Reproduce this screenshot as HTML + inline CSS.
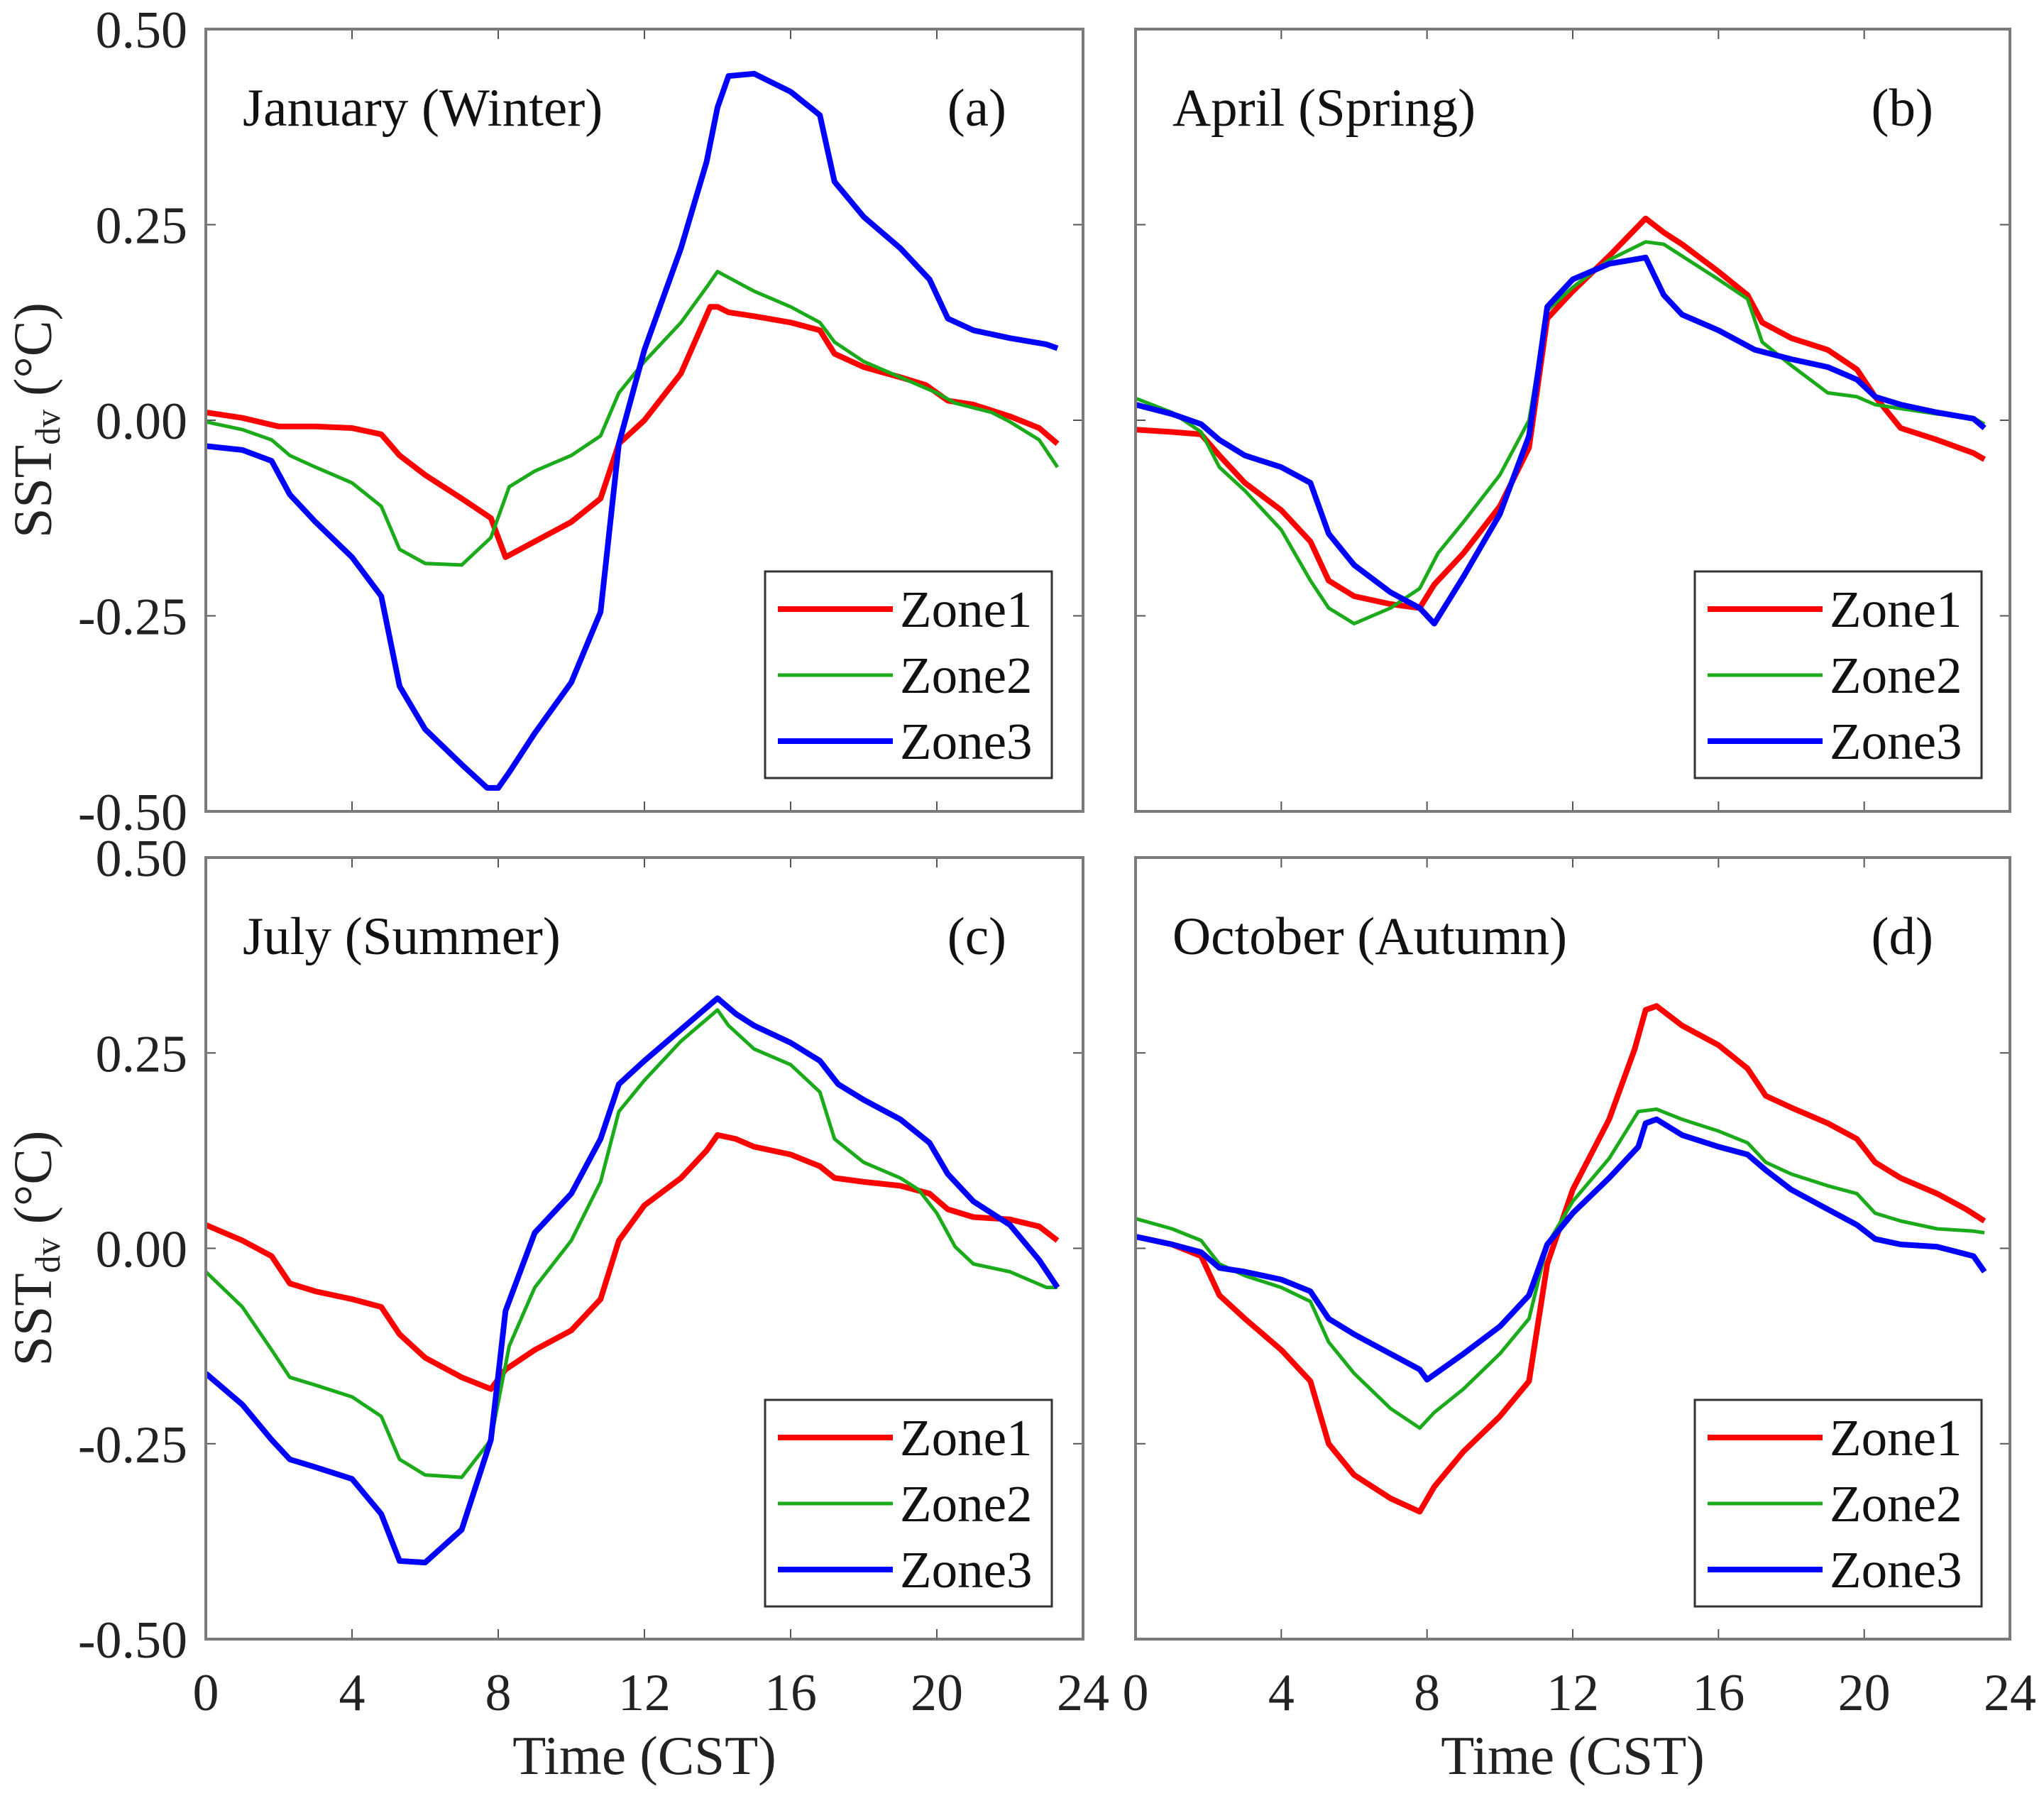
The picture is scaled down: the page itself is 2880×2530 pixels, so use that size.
<!DOCTYPE html>
<html><head><meta charset="utf-8">
<style>
html,body{margin:0;padding:0;background:#fff;}
svg{display:block;font-family:"Liberation Serif",serif;}
</style></head>
<body>
<svg id="fig" width="2880" height="2530" viewBox="0 0 2880 2530" xmlns="http://www.w3.org/2000/svg"></svg>
<script>
// ---- data: [hour, SSTdv] pairs ----
const janZone1=[[0,0.01],[1,0.003],[2,-0.008],[3,-0.008],[4,-0.01],[4.8,-0.018],[5.3,-0.045],[6,-0.07],[7,-0.1],[7.8,-0.125],[8.2,-0.175],[9,-0.155],[10,-0.13],[10.8,-0.1],[11.3,-0.03],[12,0],[13,0.06],[13.8,0.145],[14,0.145],[14.3,0.138],[15,0.133],[16,0.125],[16.8,0.115],[17.2,0.085],[18,0.068],[19,0.055],[19.7,0.045],[20.3,0.025],[21,0.02],[22,0.005],[22.8,-0.01],[23.3,-0.03]];
const janZone2=[[0,-0.002],[1,-0.012],[1.8,-0.025],[2.3,-0.045],[3,-0.06],[4,-0.08],[4.8,-0.11],[5.3,-0.165],[6,-0.183],[7,-0.185],[7.8,-0.15],[8.3,-0.085],[9,-0.065],[10,-0.045],[10.8,-0.02],[11.3,0.035],[12,0.075],[13,0.125],[13.7,0.17],[14,0.19],[15,0.165],[16,0.145],[16.8,0.125],[17.2,0.1],[18,0.075],[19,0.055],[20,0.035],[20.5,0.022],[21.5,0.01],[22,-0.002],[22.8,-0.025],[23.3,-0.06]];
const janZone3=[[0,-0.033],[1,-0.038],[1.8,-0.052],[2.3,-0.095],[3,-0.13],[4,-0.175],[4.8,-0.225],[5.3,-0.34],[6,-0.395],[7,-0.44],[7.7,-0.47],[8,-0.47],[8.3,-0.45],[9,-0.4],[10,-0.335],[10.8,-0.245],[11.3,-0.03],[12,0.09],[13,0.22],[13.7,0.33],[14,0.4],[14.3,0.44],[15,0.443],[16,0.42],[16.8,0.39],[17.2,0.305],[18,0.26],[19,0.22],[19.8,0.18],[20.3,0.13],[21,0.115],[22,0.105],[23,0.097],[23.3,0.092]];
const aprZone1=[[0,-0.012],[1,-0.015],[1.8,-0.018],[2.3,-0.045],[3,-0.08],[4,-0.115],[4.8,-0.155],[5.3,-0.205],[6,-0.225],[7,-0.235],[7.8,-0.24],[8.2,-0.21],[9,-0.17],[10,-0.11],[10.8,-0.035],[11.3,0.13],[12,0.165],[13,0.21],[14,0.258],[14.5,0.24],[15,0.225],[16,0.19],[16.8,0.16],[17.2,0.125],[18,0.105],[19,0.09],[19.8,0.065],[20.3,0.03],[21,-0.01],[22,-0.025],[23,-0.042],[23.3,-0.05]];
const aprZone2=[[0,0.028],[1,0.01],[1.8,-0.015],[2.3,-0.06],[3,-0.09],[4,-0.14],[4.8,-0.205],[5.3,-0.24],[6,-0.26],[7,-0.24],[7.8,-0.215],[8.3,-0.17],[9,-0.13],[10,-0.07],[10.8,0],[11.3,0.14],[12,0.17],[13,0.205],[14,0.228],[14.5,0.225],[15,0.21],[16,0.18],[16.8,0.155],[17.2,0.1],[18,0.07],[19,0.035],[19.8,0.03],[20.3,0.02],[21,0.015],[22,0.008],[23,0.003],[23.3,-0.005]];
const aprZone3=[[0,0.02],[1,0.008],[1.8,-0.005],[2.3,-0.025],[3,-0.045],[4,-0.06],[4.8,-0.08],[5.3,-0.145],[6,-0.185],[7,-0.22],[7.8,-0.24],[8.2,-0.26],[9,-0.2],[10,-0.12],[10.8,-0.02],[11.3,0.145],[12,0.18],[13,0.2],[14,0.208],[14.5,0.16],[15,0.135],[16,0.115],[17,0.09],[18,0.078],[19,0.068],[19.8,0.052],[20.3,0.03],[21,0.02],[22,0.01],[23,0.002],[23.3,-0.01]];
const julZone1=[[0,0.03],[1,0.01],[1.8,-0.01],[2.3,-0.045],[3,-0.055],[4,-0.065],[4.8,-0.075],[5.3,-0.11],[6,-0.14],[7,-0.165],[7.8,-0.18],[8.2,-0.155],[9,-0.13],[10,-0.105],[10.8,-0.065],[11.3,0.01],[12,0.055],[13,0.09],[13.7,0.125],[14,0.145],[14.5,0.14],[15,0.13],[16,0.12],[16.8,0.105],[17.2,0.09],[18,0.085],[19,0.08],[19.8,0.07],[20.3,0.05],[21,0.04],[22,0.037],[22.8,0.028],[23.3,0.01]];
const julZone2=[[0,-0.03],[1,-0.075],[1.8,-0.13],[2.3,-0.165],[3,-0.175],[4,-0.19],[4.8,-0.215],[5.3,-0.27],[6,-0.29],[7,-0.293],[7.8,-0.245],[8.3,-0.125],[9,-0.05],[10,0.01],[10.8,0.085],[11.3,0.175],[12,0.215],[13,0.265],[14,0.305],[14.3,0.285],[15,0.255],[16,0.235],[16.8,0.2],[17.2,0.14],[18,0.11],[19,0.09],[19.5,0.075],[20,0.045],[20.5,0.002],[21,-0.02],[22,-0.03],[23,-0.05],[23.3,-0.05]];
const julZone3=[[0,-0.16],[1,-0.2],[1.8,-0.245],[2.3,-0.27],[3,-0.28],[4,-0.295],[4.8,-0.34],[5.3,-0.4],[6,-0.402],[7,-0.36],[7.8,-0.245],[8.2,-0.08],[9,0.02],[10,0.07],[10.8,0.14],[11.3,0.21],[12,0.24],[13,0.28],[14,0.32],[14.5,0.3],[15,0.285],[16,0.263],[16.8,0.24],[17.3,0.21],[18,0.19],[19,0.165],[19.8,0.135],[20.3,0.095],[21,0.06],[22,0.03],[22.8,-0.015],[23.3,-0.05]];
const octZone1=[[0,0.015],[1,0.005],[1.8,-0.01],[2.3,-0.06],[3,-0.09],[4,-0.13],[4.8,-0.17],[5.3,-0.25],[6,-0.29],[7,-0.32],[7.8,-0.337],[8.2,-0.305],[9,-0.26],[10,-0.215],[10.8,-0.17],[11.3,-0.02],[12,0.075],[13,0.165],[13.7,0.255],[14,0.305],[14.3,0.31],[15,0.285],[16,0.26],[16.8,0.23],[17.3,0.195],[18,0.18],[19,0.16],[19.8,0.14],[20.3,0.11],[21,0.09],[22,0.07],[22.8,0.05],[23.3,0.035]];
const octZone2=[[0,0.038],[1,0.025],[1.8,0.01],[2.3,-0.02],[3,-0.035],[4,-0.05],[4.8,-0.068],[5.3,-0.12],[6,-0.16],[7,-0.205],[7.8,-0.23],[8.2,-0.21],[9,-0.18],[10,-0.135],[10.8,-0.09],[11.3,0.005],[12,0.06],[13,0.115],[13.8,0.175],[14.3,0.178],[15,0.165],[16,0.15],[16.8,0.135],[17.3,0.11],[18,0.095],[19,0.08],[19.8,0.07],[20.3,0.045],[21,0.035],[22,0.025],[23,0.022],[23.3,0.02]];
const octZone3=[[0,0.015],[1,0.005],[1.8,-0.005],[2.3,-0.025],[3,-0.03],[4,-0.04],[4.8,-0.055],[5.3,-0.09],[6,-0.11],[7,-0.135],[7.8,-0.155],[8,-0.168],[9,-0.135],[10,-0.1],[10.8,-0.06],[11.3,0.005],[12,0.045],[13,0.09],[13.8,0.13],[14,0.16],[14.3,0.165],[15,0.145],[16,0.13],[16.8,0.12],[17.3,0.1],[18,0.075],[19,0.05],[19.8,0.03],[20.3,0.012],[21,0.005],[22,0.002],[23,-0.01],[23.3,-0.03]];
const xTicks=[0,4,8,12,16,20,24];
const yTicks=[0.5,0.25,0,-0.25,-0.5];
const yTickLabels=["0.50","0.25","0.00","-0.25","-0.50"];
const zoneNames=["Zone1","Zone2","Zone3"];
const panelTitles=["January (Winter)","April (Spring)","July (Summer)","October (Autumn)"];
const panelLetters=["(a)","(b)","(c)","(d)"];

const NS="http://www.w3.org/2000/svg";
const svg=document.getElementById('fig');
function mk(tag,attrs,parent){const e=document.createElementNS(NS,tag);for(const k in attrs)e.setAttribute(k,attrs[k]);(parent||svg).appendChild(e);return e;}
const colors=["#ff0000","#1aaa1a","#0000ff"];
const widths=[8,5,8];
const panels=[
 {x0:290,x1:1526,y0:41,y1:1143,series:[janZone1,janZone2,janZone3],left:true,bottom:false,name:'panel-a'},
 {x0:1600,x1:2832,y0:41,y1:1143,series:[aprZone1,aprZone2,aprZone3],left:false,bottom:false,name:'panel-b'},
 {x0:290,x1:1526,y0:1208,y1:2309,series:[julZone1,julZone2,julZone3],left:true,bottom:true,name:'panel-c'},
 {x0:1600,x1:2832,y0:1208,y1:2309,series:[octZone1,octZone2,octZone3],left:false,bottom:true,name:'panel-d'}
];
panels.forEach((p,i)=>{
  const g=mk('g',{});
  
  
  const sx=h=>p.x0+(h/24)*(p.x1-p.x0);
  const sy=v=>p.y0+(0.5-v)*(p.y1-p.y0);
  const cid='clip'+i;
  const cp=mk('clipPath',{id:cid},g);
  mk('rect',{x:p.x0,y:p.y0,width:p.x1-p.x0,height:p.y1-p.y0},cp);
  xTicks.forEach(t=>{
    const x=sx(t);
    const tk=mk('path',{d:`M${x},${p.y1}v-14M${x},${p.y0}v14`,stroke:'#555','stroke-width':2},g);
    
    
    if(p.bottom){
      const tl=mk('text',{x:x,y:p.y1+100,'font-size':74,'text-anchor':'middle',fill:'#222'},g);
      tl.textContent=String(t);
      
      
    }
  });
  yTicks.forEach((t,j)=>{
    const y=sy(t);
    const tk=mk('path',{d:`M${p.x0},${y}h14M${p.x1},${y}h-14`,stroke:'#555','stroke-width':2},g);
    
    
    if(p.left){
      const tl=mk('text',{x:p.x0-26,y:y+26,'font-size':74,'text-anchor':'end',fill:'#222'},g);
      tl.textContent=yTickLabels[j];
      
      
    }
  });
  p.series.forEach((s,k)=>{
    const d=s.map((pt,n)=>(n?'L':'M')+sx(pt[0]).toFixed(1)+','+sy(pt[1]).toFixed(1)).join('');
    const ln=mk('path',{d:d,fill:'none',stroke:colors[k],'stroke-width':widths[k],'stroke-linejoin':'round','clip-path':`url(#${cid})`},g);
    
    
  });
  const fr=mk('rect',{x:p.x0,y:p.y0,width:p.x1-p.x0,height:p.y1-p.y0,fill:'none',stroke:'#7a7a7a','stroke-width':4},g);
  
  
  const tt=mk('text',{x:p.x0+52,y:p.y0+136,'font-size':75,fill:'#111'},g);
  tt.textContent=panelTitles[i];
  
  
  const tlet=mk('text',{x:p.x1-108,y:p.y0+136,'font-size':75,'text-anchor':'end',fill:'#111'},g);
  tlet.textContent=panelLetters[i];
  
  
  const lx=p.x0+788, ly=p.y0+764, lw=404, lh=291;
  const lg=mk('g',{},g);
  
  
  mk('rect',{x:lx,y:ly,width:lw,height:lh,fill:'#fff',stroke:'#333','stroke-width':3},lg);
  zoneNames.forEach((z,k)=>{
    const yy=ly+53+k*93;
    const ll=mk('line',{x1:lx+18,x2:lx+180,y1:yy,y2:yy,stroke:colors[k],'stroke-width':widths[k]},lg);
    
    
    const lt=mk('text',{x:lx+190,y:yy+25,'font-size':73,fill:'#111'},lg);
    lt.textContent=z;
    
    
  });
  if(p.bottom){
    const xl=mk('text',{x:(p.x0+p.x1)/2,y:p.y1+190,'font-size':77,'text-anchor':'middle',fill:'#222'},g);
    xl.textContent='Time (CST)';
    
    
  }
  if(p.left){
    const cy=(p.y0+p.y1)/2;
    const yl=mk('text',{x:0,y:0,'font-size':76,'text-anchor':'middle',fill:'#222',transform:`translate(72,${cy}) rotate(-90)`},g);
    yl.innerHTML='SST<tspan font-size="50" dy="12">dv</tspan><tspan dy="-12"> (°C)</tspan>';
    
    
  }
});
</script>
</body></html>
